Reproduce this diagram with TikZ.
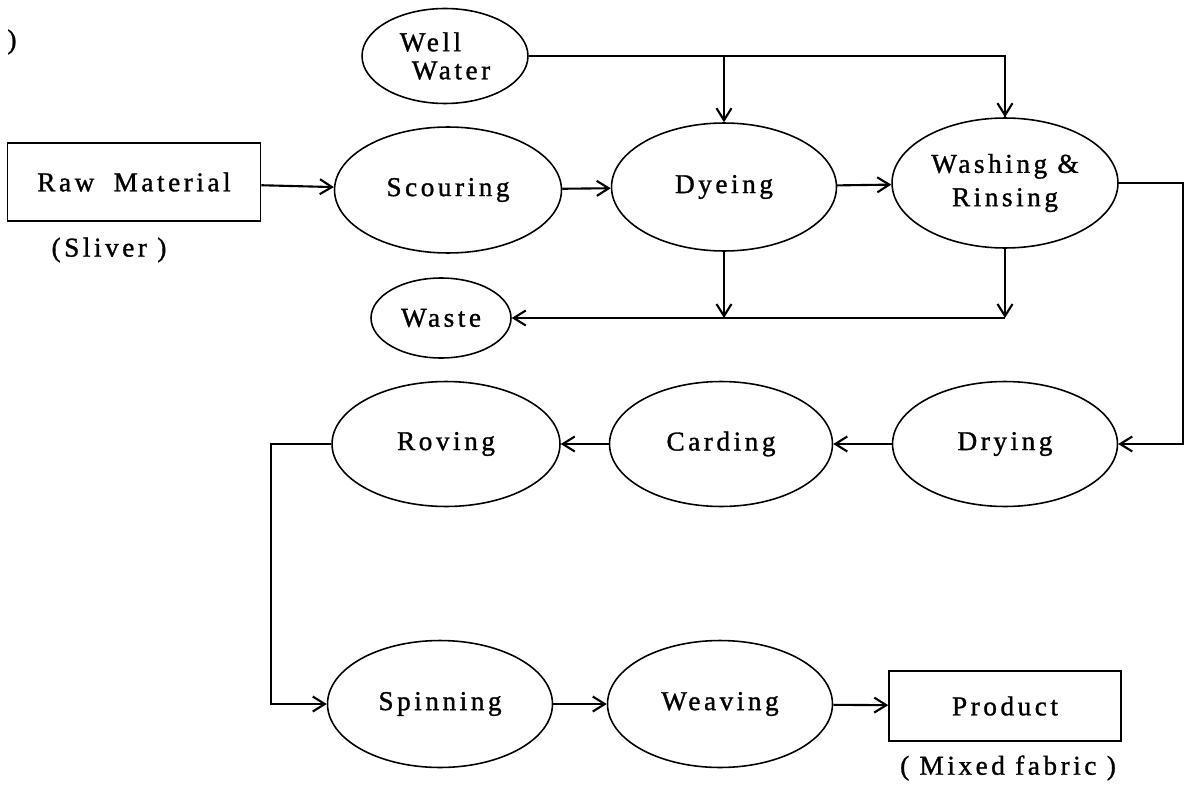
\documentclass[tikz,border=0pt]{standalone}
\usepackage{fontspec}
\setmainfont{Liberation Serif}[LetterSpace=13, FakeBold=1.2]
\usetikzlibrary{positioning, arrows.meta, shapes.geometric}

\begin{document}
\begin{tikzpicture}[
      x=0.02cm, y=-0.02cm,
      every node/.style={font=\fontsize{15.5}{19}\selectfont},
      stage/.style 2 args={draw, ellipse, line width=0.9pt, inner sep=0pt,
                           minimum width=#1, minimum height=#2, align=center},
      endbox/.style 2 args={draw, rectangle, line width=0.9pt,
                            minimum width=#1, minimum height=#2},
      flow/.style={line width=1.2pt, -{Straight Barb[length=2.4mm, width=3mm]}},
      feed/.style={line width=0.7pt},
    ]
    \useasboundingbox (0,0) rectangle (1189,784);

    \node (stray) at (12,42) {)};

    % first row
    \node[endbox={5.06cm}{1.56cm}]    (raw)   at (134,182) {Raw\hspace{11pt}Material};
    \node                             (sliv)  at (109,250) {(Sliver )};
    \node[stage={4.54cm}{2.52cm}]     (scour) at (448,190) {Scouring};
    \node[stage={4.5cm}{2.56cm}]      (dye)   at (724,187) {Dyeing};
    \node[stage={4.52cm}{2.6cm}]      (wash)  at (1005,183) {Washing \&\\Rinsing};
    \node[stage={3.32cm}{1.9cm}, align=left,
          font=\fontsize{15.5}{16}\selectfont]
                                      (well)  at (445,56)  {Well\\\hspace*{0.44em}Water};
    \node[stage={2.8cm}{1.6cm}]       (waste) at (441,318) {Waste};

    % second row
    \node[stage={4.5cm}{2.5cm}]       (dry)   at (1005,444) {Drying};
    \node[stage={4.46cm}{2.5cm}]      (card)  at (721,444)  {Carding};
    \node[stage={4.56cm}{2.5cm}]      (rov)   at (446,444)  {Roving};

    % third row
    \node[stage={4.5cm}{2.54cm}]      (spin)  at (440,704) {Spinning};
    \node[stage={4.5cm}{2.54cm}]      (weave) at (720,704) {Weaving};
    \node[endbox={4.64cm}{1.4cm}]     (prod)  at (1005,706) {Product};
    \node                             (mixed) at (1008,768) {( Mixed fabric )};

    \coordinate (wjoin) at (wash.south |- waste.east);

    \draw[flow] (raw) -- (scour);
    \draw[flow] (scour) -- (dye);
    \draw[flow] (dye) -- (wash);
    \draw[feed] (well.east) -| (wash.north);
    \draw[flow] (well.east -| wash.north) -- (wash.north);
    \draw[flow] (well.east -| dye.north) -- (dye.north);
    \draw[flow] (dye.south) -- (dye.south |- waste.east);
    \draw[flow] (wash.south) -- (wjoin);
    \draw[flow] (wjoin) -- (waste.east);
    \draw[flow] (wash.east) -- ++(64,0) |- (dry.east);
    \draw[flow] (dry) -- (card);
    \draw[flow] (card) -- (rov);
    \draw[flow] (rov.west) -- ++(-60,0) |- (spin.west);
    \draw[flow] (spin) -- (weave);
    \draw[flow] (weave) -- (prod);
  \end{tikzpicture}
\end{document}
